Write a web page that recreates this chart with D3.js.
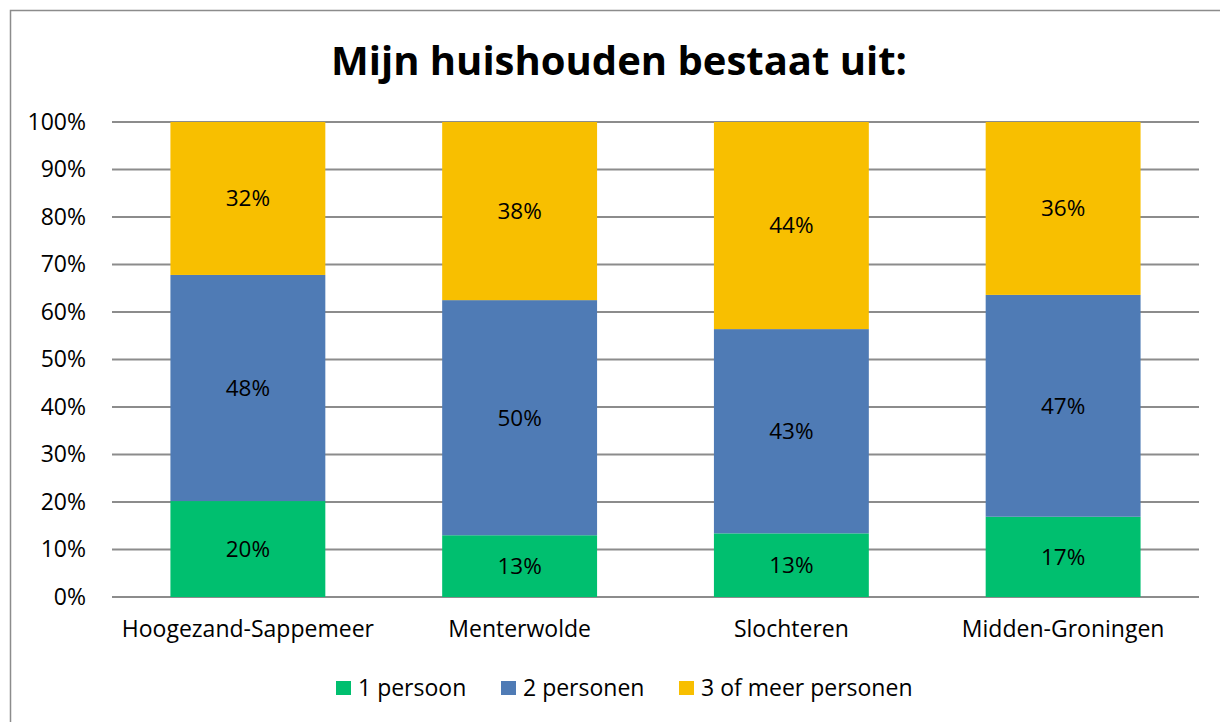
<!DOCTYPE html>
<html>
<head>
<meta charset="utf-8">
<script src="https://cdn.jsdelivr.net/npm/d3@7"></script>
<style>
  body { margin: 0; background: #fff; }
  text { font-family: "Open Sans", sans-serif; fill: #000; }
</style>
</head>
<body>
<svg id="chart" width="1220" height="722"></svg>
<script>
// data
const categories = ["Hoogezand-Sappemeer", "Menterwolde", "Slochteren", "Midden-Groningen"];
const seriesNames = ["1 persoon", "2 personen", "3 of meer personen"];
const onePerson = [20.2, 13.0, 13.4, 16.9];
const twoPersons = [47.6, 49.5, 43.0, 46.7];
const threePlus = [32.2, 37.5, 43.6, 36.4];
const colors = ["#00bf6f", "#4f7bb5", "#f8bf00"];
const yTicks = [0, 10, 20, 30, 40, 50, 60, 70, 80, 90, 100];

const svg = d3.select("#chart");
const plot = { left: 112, right: 1199, top: 122, bottom: 597 };
const font = "'Open Sans', sans-serif";

// outer chart border
svg.append("rect")
  .attr("x", 10.5).attr("y", 10.5)
  .attr("width", 1240).attr("height", 740)
  .attr("fill", "none").attr("stroke", "#8c8c8c").attr("stroke-width", 1.5);

svg.append("text")
  .attr("x", 619).attr("y", 75)
  .attr("text-anchor", "middle")
  .attr("font-size", 40).attr("font-weight", "bold")
  .text("Mijn huishouden bestaat uit:");

const x = d3.scaleBand().domain(categories)
  .range([plot.left, plot.right]).paddingInner(0.43).paddingOuter(0.215);
const y = d3.scaleLinear().domain([0, 100]).range([plot.bottom, plot.top]);

// gridlines
svg.append("g").selectAll("line").data(yTicks).join("line")
  .attr("x1", plot.left).attr("x2", plot.right)
  .attr("y1", d => y(d)).attr("y2", d => y(d))
  .attr("stroke", "#8c8c8c").attr("stroke-width", 2);

const yAxis = svg.append("g").attr("transform", `translate(${plot.left},0)`)
  .call(d3.axisLeft(y).tickValues(yTicks).tickFormat(d => d + "%").tickSize(0).tickPadding(26));
yAxis.select(".domain").remove();
yAxis.selectAll("text").attr("font-size", 23).style("font-family", font);

const rows = categories.map((c, i) => ({ cat: c, s0: onePerson[i], s1: twoPersons[i], s2: threePlus[i] }));
const stacked = d3.stack().keys(["s0", "s1", "s2"])(rows);

const layers = svg.append("g").selectAll("g").data(stacked).join("g")
  .attr("fill", (d, i) => colors[i]);

layers.selectAll("rect").data(d => d).join("rect")
  .attr("x", d => x(d.data.cat))
  .attr("width", x.bandwidth())
  .attr("y", d => y(d[1]))
  .attr("height", d => y(d[0]) - y(d[1]));

layers.selectAll("text").data(d => d).join("text")
  .attr("x", d => x(d.data.cat) + x.bandwidth() / 2)
  .attr("y", d => y((d[0] + d[1]) / 2))
  .attr("dy", "0.35em")
  .attr("text-anchor", "middle")
  .attr("font-size", 22.5)
  .text(d => Math.round(d[1] - d[0]) + "%");

// category labels
const xAxis = svg.append("g").attr("transform", `translate(0,${plot.bottom})`)
  .call(d3.axisBottom(x).tickSize(0).tickPadding(0));
xAxis.select(".domain").remove();
xAxis.selectAll("text").attr("font-size", 23).attr("dy", null).attr("y", 40)
  .style("font-family", font);

// legend
const legendX = [336, 501, 679];
const legend = svg.append("g").selectAll("g").data(seriesNames).join("g")
  .attr("transform", (d, i) => `translate(${legendX[i]},688)`);
legend.append("rect").attr("x", 0).attr("y", -7).attr("width", 15).attr("height", 14)
  .attr("fill", (d, i) => colors[i]);
legend.append("text").attr("x", 22).attr("dy", "0.36em").attr("font-size", 23).text(d => d);
</script>
</body>
</html>
